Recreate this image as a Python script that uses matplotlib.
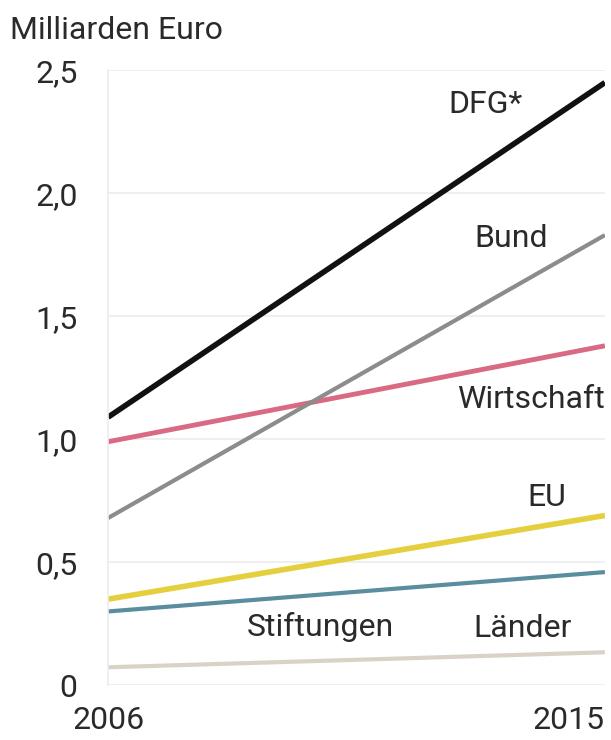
import matplotlib.pyplot as plt

# Research funding by source, 2006 vs 2015 (billion euro)
years = [2006, 2015]
series_names = ["DFG*", "Bund", "Wirtschaft", "EU", "Stiftungen", "Länder"]
dfg = [1.09, 2.45]
bund = [0.68, 1.83]
wirtschaft = [0.99, 1.38]
eu = [0.35, 0.69]
stiftungen = [0.30, 0.46]
laender = [0.073, 0.134]

yticks = [0, 0.5, 1.0, 1.5, 2.0, 2.5]
ytick_labels = ["0", "0,5", "1,0", "1,5", "2,0", "2,5"]
xtick_labels = ["2006", "2015"]

plt.rcParams["font.family"] = ["Roboto", "DejaVu Sans"]
text_color = "#2a2a2a"

fig = plt.figure(figsize=(6.11, 7.40), dpi=100)
ax = fig.add_axes([0.177, 0.074, 0.813, 0.831])

# thin-to-thick order so the dark lines sit on top
ax.plot(years, laender, color="#d9d3c7", lw=3, solid_capstyle="butt")
ax.plot(years, stiftungen, color="#5a8e9e", lw=3, solid_capstyle="butt")
ax.plot(years, eu, color="#e6cf3e", lw=4, solid_capstyle="butt")
ax.plot(years, wirtschaft, color="#d86a83", lw=3.5, solid_capstyle="butt")
ax.plot(years, bund, color="#8c8c8c", lw=3, solid_capstyle="butt")
ax.plot(years, dfg, color="#111111", lw=4, solid_capstyle="butt")

# series labels
lab = dict(fontsize=23, color=text_color, va="center")
ax.text(2012.83, 2.36, series_names[0], ha="center", **lab)
ax.text(2013.3, 1.817, series_names[1], ha="center", **lab)
ax.text(2015.0, 1.16, series_names[2], ha="right", **lab)
ax.text(2013.95, 0.764, series_names[3], ha="center", **lab)
ax.text(2009.85, 0.236, series_names[4], ha="center", **lab)
ax.text(2013.5, 0.232, series_names[5], ha="center", **lab)

ax.set_xlim(2006, 2015)
ax.set_ylim(0, 2.5)
ax.set_yticks(yticks)
ax.set_yticklabels(ytick_labels)
ax.set_xticks(years)
ax.set_xticklabels(xtick_labels)
ax.get_xticklabels()[1].set_ha("right")
ax.get_xticklabels()[0].set_ha("center")

ax.tick_params(axis="y", length=0, pad=22, labelsize=23, labelcolor=text_color)
ax.tick_params(axis="x", length=0, pad=15, labelsize=23, labelcolor=text_color)

ax.grid(axis="y", color="#ececec", lw=1.2)
ax.set_axisbelow(True)
for side in ["top", "right", "bottom"]:
    ax.spines[side].set_visible(False)
ax.spines["left"].set_color("#ececec")
ax.spines["left"].set_linewidth(1.2)

fig.text(0.016, 0.959, "Milliarden Euro", fontsize=23, color=text_color,
         ha="left", va="center")

fig.savefig("out.png", dpi=100)
